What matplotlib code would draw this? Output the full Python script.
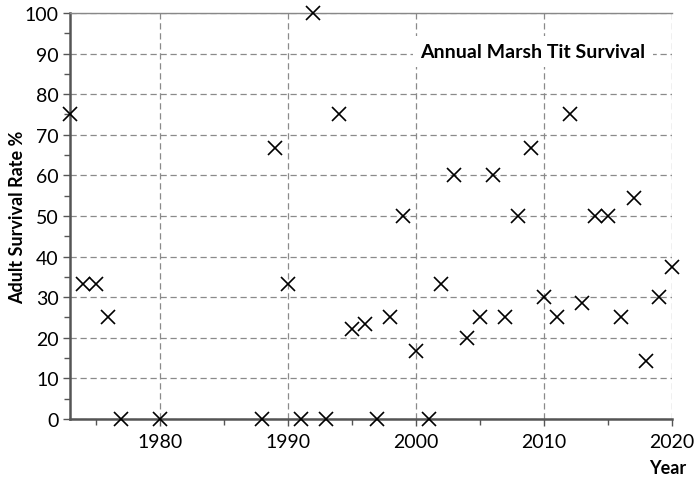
import matplotlib
matplotlib.use("Agg")
import matplotlib.pyplot as plt
from matplotlib.ticker import MultipleLocator

plt.rcParams["font.family"] = ["Lato", "DejaVu Sans"]

years = [1973, 1974, 1975, 1976, 1977, 1980, 1988, 1989, 1990, 1991,
         1992, 1993, 1994, 1995, 1996, 1997, 1998, 1999, 2000, 2001,
         2002, 2003, 2004, 2005, 2006, 2007, 2008, 2009, 2010, 2011,
         2012, 2013, 2014, 2015, 2016, 2017, 2018, 2019, 2020]
survival = [75, 33.3, 33.3, 25, 0, 0, 0, 66.7, 33.3, 0,
            100, 0, 75, 22.2, 23.5, 0, 25, 50, 16.7, 0,
            33.3, 60, 20, 25, 60, 25, 50, 66.7, 30, 25,
            75, 28.6, 50, 50, 25, 54.5, 14.3, 30, 37.5]

fig = plt.figure(figsize=(7, 4.81), dpi=100)
ax = fig.add_axes([0.1, 0.127, 0.86, 0.844])

ax.plot(years, survival, "x", color="black", markersize=10, markeredgewidth=1.2,
        clip_on=False, zorder=5)

ax.set_xlim(1973, 2020)
ax.set_ylim(0, 100)
ax.xaxis.set_major_locator(MultipleLocator(10))
ax.xaxis.set_minor_locator(MultipleLocator(5))
ax.yaxis.set_major_locator(MultipleLocator(10))
ax.yaxis.set_minor_locator(MultipleLocator(5))

ax.grid(True, which="major", color="#8a8a8a", linestyle=(0, (5, 3)), linewidth=0.9)
for s in ["left", "bottom"]:
    ax.spines[s].set_color("#555555")
    ax.spines[s].set_linewidth(1.8)
ax.spines["top"].set_color("#888888")
ax.spines["top"].set_linewidth(1.0)
ax.spines["right"].set_visible(False)

ax.tick_params(which="both", color="#555555", labelsize=14, pad=3)
ax.tick_params(which="major", length=5, width=1)
ax.tick_params(which="minor", length=4, width=1)
ax.tick_params(axis="x", pad=5)

ax.set_ylabel("Adult Survival Rate %", fontsize=13, fontweight="bold")
ax.yaxis.set_label_coords(-0.073, 0.5)
ax.text(1.023, -0.12, "Year", transform=ax.transAxes, ha="right", va="center",
        fontsize=13, fontweight="bold")

ax.text(0.956, 0.906, "Annual Marsh Tit Survival", transform=ax.transAxes,
        ha="right", va="center", fontsize=14, fontweight="bold",
        bbox=dict(facecolor="white", edgecolor="none", pad=5), zorder=4)

fig.savefig("out.png", dpi=100)
